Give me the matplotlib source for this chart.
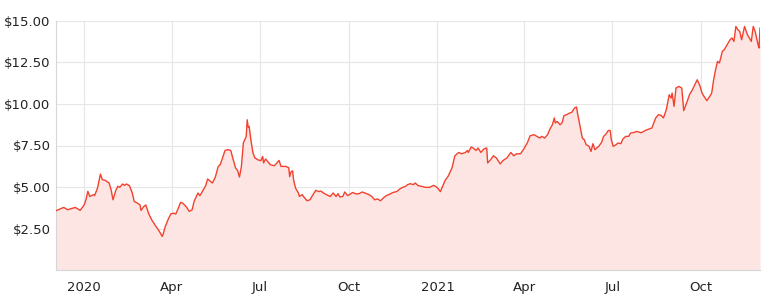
import pandas as pd
import numpy as np
import matplotlib as mpl
import matplotlib.pyplot as plt
from matplotlib.ticker import FuncFormatter

# price readings (date, close)
dates = [
    "2019-12-03", "2019-12-11", "2019-12-15", "2019-12-23", "2019-12-28",
    "2020-01-01", "2020-01-03", "2020-01-05", "2020-01-07", "2020-01-11",
    "2020-01-12", "2020-01-15", "2020-01-18", "2020-01-20", "2020-01-23",
    "2020-01-27", "2020-01-29", "2020-01-31", "2020-02-03", "2020-02-05",
    "2020-02-07", "2020-02-10", "2020-02-12", "2020-02-14", "2020-02-17",
    "2020-02-20", "2020-02-22", "2020-02-25", "2020-02-28", "2020-02-29",
    "2020-03-03", "2020-03-05", "2020-03-08", "2020-03-11", "2020-03-15",
    "2020-03-19", "2020-03-22", "2020-03-23", "2020-03-25", "2020-03-28",
    "2020-03-31", "2020-04-03", "2020-04-05", "2020-04-07", "2020-04-10",
    "2020-04-12", "2020-04-16", "2020-04-19", "2020-04-22", "2020-04-24",
    "2020-04-28", "2020-04-30", "2020-05-02", "2020-05-06", "2020-05-08",
    "2020-05-11", "2020-05-13", "2020-05-16", "2020-05-19", "2020-05-21",
    "2020-05-24", "2020-05-26", "2020-05-29", "2020-06-01", "2020-06-03",
    "2020-06-06", "2020-06-08", "2020-06-10", "2020-06-12", "2020-06-14",
    "2020-06-17", "2020-06-18", "2020-06-19", "2020-06-20", "2020-06-22",
    "2020-06-24", "2020-06-26", "2020-06-29", "2020-07-02", "2020-07-04",
    "2020-07-05", "2020-07-07", "2020-07-10", "2020-07-12", "2020-07-16",
    "2020-07-18", "2020-07-21", "2020-07-23", "2020-07-28", "2020-07-31",
    "2020-08-01", "2020-08-02", "2020-08-04", "2020-08-05", "2020-08-07",
    "2020-08-10", "2020-08-11", "2020-08-14", "2020-08-16", "2020-08-19",
    "2020-08-22", "2020-08-24", "2020-08-28", "2020-08-31", "2020-09-02",
    "2020-09-05", "2020-09-08", "2020-09-12", "2020-09-15", "2020-09-18",
    "2020-09-20", "2020-09-22", "2020-09-25", "2020-09-27", "2020-09-30",
    "2020-10-03", "2020-10-05", "2020-10-09", "2020-10-12", "2020-10-15",
    "2020-10-18", "2020-10-22", "2020-10-25", "2020-10-28", "2020-10-31",
    "2020-11-03", "2020-11-06", "2020-11-09", "2020-11-13", "2020-11-16",
    "2020-11-20", "2020-11-23", "2020-11-26", "2020-11-29", "2020-12-01",
    "2020-12-04", "2020-12-07", "2020-12-09", "2020-12-12", "2020-12-15",
    "2020-12-20", "2020-12-24", "2020-12-28", "2020-12-31", "2021-01-02",
    "2021-01-04", "2021-01-06", "2021-01-09", "2021-01-12", "2021-01-16",
    "2021-01-18", "2021-01-19", "2021-01-23", "2021-01-26", "2021-01-30",
    "2021-02-01", "2021-02-02", "2021-02-05", "2021-02-07", "2021-02-10",
    "2021-02-12", "2021-02-15", "2021-02-18", "2021-02-21", "2021-02-22",
    "2021-02-25", "2021-02-28", "2021-03-03", "2021-03-07", "2021-03-10",
    "2021-03-14", "2021-03-18", "2021-03-21", "2021-03-24", "2021-03-28",
    "2021-03-29", "2021-03-31", "2021-04-04", "2021-04-07", "2021-04-11",
    "2021-04-14", "2021-04-17", "2021-04-19", "2021-04-22", "2021-04-25",
    "2021-04-28", "2021-04-30", "2021-05-02", "2021-05-03", "2021-05-05",
    "2021-05-08", "2021-05-10", "2021-05-12", "2021-05-15", "2021-05-18",
    "2021-05-20", "2021-05-23", "2021-05-25", "2021-05-26", "2021-05-28",
    "2021-05-30", "2021-05-31", "2021-06-02", "2021-06-04", "2021-06-07",
    "2021-06-09", "2021-06-11", "2021-06-13", "2021-06-15", "2021-06-17",
    "2021-06-20", "2021-06-22", "2021-06-24", "2021-06-27", "2021-06-29",
    "2021-06-30", "2021-07-02", "2021-07-05", "2021-07-07", "2021-07-10",
    "2021-07-12", "2021-07-15", "2021-07-18", "2021-07-20", "2021-07-24",
    "2021-07-26", "2021-07-31", "2021-08-06", "2021-08-11", "2021-08-15",
    "2021-08-18", "2021-08-21", "2021-08-23", "2021-08-26", "2021-08-29",
    "2021-08-31", "2021-09-01", "2021-09-03", "2021-09-05", "2021-09-08",
    "2021-09-11", "2021-09-13", "2021-09-16", "2021-09-19", "2021-09-22",
    "2021-09-25", "2021-09-27", "2021-09-30", "2021-10-02", "2021-10-04",
    "2021-10-07", "2021-10-10", "2021-10-12", "2021-10-14", "2021-10-16",
    "2021-10-18", "2021-10-20", "2021-10-23", "2021-10-25", "2021-10-28",
    "2021-10-31", "2021-11-02", "2021-11-04", "2021-11-06", "2021-11-08",
    "2021-11-10", "2021-11-12", "2021-11-15", "2021-11-18", "2021-11-20",
    "2021-11-22", "2021-11-24", "2021-11-26", "2021-11-29", "2021-11-30",
    "2021-12-01",
]
prices = [
    3.57, 3.77, 3.63, 3.77, 3.59,
    3.91, 4.23, 4.74, 4.43, 4.54,
    4.48, 4.94, 5.78, 5.44, 5.40,
    5.24, 4.84, 4.23, 4.80, 5.04,
    4.98, 5.18, 5.10, 5.18, 5.08,
    4.64, 4.13, 4.04, 3.92, 3.59,
    3.83, 3.92, 3.39, 3.03, 2.67,
    2.33, 2.02, 2.17, 2.59, 3.03,
    3.39, 3.42, 3.37, 3.63, 4.07,
    4.04, 3.80, 3.53, 3.63, 4.13,
    4.64, 4.48, 4.67, 5.08, 5.48,
    5.34, 5.24, 5.60, 6.24, 6.34,
    6.84, 7.20, 7.25, 7.20, 6.75,
    6.14, 6.00, 5.60, 6.24, 7.65,
    8.05, 9.05, 8.61, 8.65, 7.75,
    7.05, 6.75, 6.64, 6.58, 6.84,
    6.45, 6.69, 6.48, 6.34, 6.28,
    6.40, 6.60, 6.24, 6.24, 6.16,
    5.62, 5.88, 5.98, 5.44, 4.94,
    4.64, 4.43, 4.54, 4.37, 4.17,
    4.23, 4.43, 4.80, 4.72, 4.76,
    4.64, 4.54, 4.43, 4.64, 4.43,
    4.60, 4.40, 4.43, 4.70, 4.48,
    4.58, 4.67, 4.58, 4.60, 4.70,
    4.64, 4.54, 4.43, 4.23, 4.28,
    4.17, 4.34, 4.48, 4.58, 4.67,
    4.73, 4.88, 4.98, 5.04, 5.14,
    5.20, 5.14, 5.24, 5.08, 5.04,
    4.98, 4.98, 5.10, 5.00, 4.88,
    4.72, 5.00, 5.40, 5.64, 6.14,
    6.64, 6.88, 7.08, 7.00, 7.08,
    7.20, 7.08, 7.41, 7.35, 7.20,
    7.35, 7.08, 7.29, 7.35, 6.45,
    6.64, 6.88, 6.75, 6.39, 6.60,
    6.75, 7.08, 6.88, 7.00, 7.00,
    7.08, 7.25, 7.65, 8.09, 8.15,
    8.05, 7.95, 8.05, 7.95, 8.15,
    8.55, 8.75, 9.16, 8.86, 8.95,
    8.75, 8.86, 9.30, 9.36, 9.46,
    9.49, 9.76, 9.82, 9.46, 8.86,
    8.25, 7.95, 7.85, 7.55, 7.45,
    7.14, 7.61, 7.25, 7.35, 7.45,
    7.69, 8.05, 8.15, 8.41, 8.39,
    7.85, 7.45, 7.55, 7.65, 7.61,
    7.89, 8.05, 8.05, 8.25, 8.29,
    8.35, 8.27, 8.45, 8.55, 9.16,
    9.36, 9.30, 9.16, 9.66, 10.56,
    10.36, 10.66, 9.86, 10.96, 11.06,
    10.96, 9.60, 10.06, 10.56, 10.86,
    11.22, 11.46, 11.06, 10.66, 10.46,
    10.20, 10.46, 10.66, 11.46, 12.07,
    12.57, 12.47, 13.17, 13.27, 13.57,
    13.87, 13.98, 13.77, 14.67, 14.48,
    14.37, 13.87, 14.67, 14.17, 13.98,
    13.77, 14.67, 14.37, 13.57, 13.37,
    14.57,
]
y_ticks = [2.5, 5.0, 7.5, 10.0, 12.5, 15.0]
x_tick_dates = ["2020-01-01", "2020-04-01", "2020-07-01", "2020-10-01",
                "2021-01-01", "2021-04-01", "2021-07-01", "2021-10-01"]
x_tick_labels = ["2020", "Apr", "Jul", "Oct", "2021", "Apr", "Jul", "Oct"]

df = pd.DataFrame({"date": pd.to_datetime(dates), "price": prices})

mpl.rcParams['font.family'] = ['DejaVu Sans']

line_col = "#f2412e"
fill_col = "#fce5e3"
grid_col = "#e6e6e6"
text_col = "#222222"

fig = plt.figure(figsize=(7.75, 3.05), dpi=100)
ax = fig.add_axes([56 / 775, 35 / 305, 704 / 775, 249 / 305])

# area under the price line, then the line on top
ax.fill_between(df["date"], df["price"], 0, color=fill_col, linewidth=0, zorder=1)
ax.plot(df["date"], df["price"], color=line_col, linewidth=1.0, zorder=3)

ax.set_xlim(pd.Timestamp("2019-12-03"), pd.Timestamp("2021-12-01"))
ax.set_ylim(0, 15)

ax.set_yticks(y_ticks)
ax.yaxis.set_major_formatter(FuncFormatter(lambda v, p: f"${v:,.2f}"))
ax.set_xticks(pd.to_datetime(x_tick_dates))
ax.set_xticklabels(x_tick_labels)

ax.tick_params(axis="both", length=0, labelsize=9.5, colors=text_col)
ax.tick_params(axis="y", pad=4)
ax.tick_params(axis="x", pad=8)

ax.grid(True, color=grid_col, linewidth=0.8, zorder=0)
ax.set_axisbelow(True)

for s in ["top", "right"]:
    ax.spines[s].set_visible(False)
for s in ["left", "bottom"]:
    ax.spines[s].set_color("#d6d6d6")
    ax.spines[s].set_linewidth(0.8)

fig.savefig("out.png", dpi=100)
